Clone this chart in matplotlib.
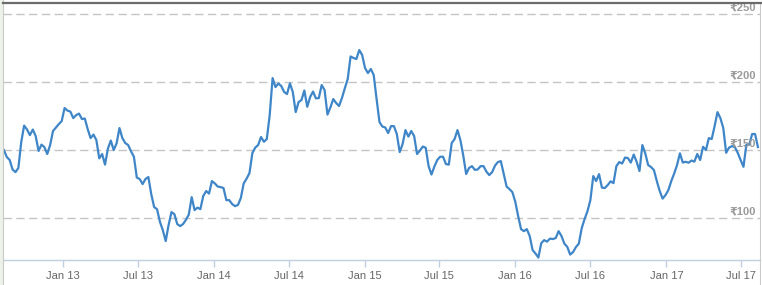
import matplotlib
matplotlib.use("Agg")
import matplotlib.pyplot as plt
import matplotlib.dates as mdates
import pandas as pd
from matplotlib.patches import Rectangle
from matplotlib.lines import Line2D

# ---- data (weekly closes) ----
start_date = "2012-08-10"
prices = [
    150.2, 145.1, 142.9, 135.9, 134.0, 137.0, 156.1, 168.2, 165.3, 161.2,
    165.3, 160.5, 149.5, 154.2, 152.4, 147.3, 153.9, 164.2, 166.8, 169.3,
    171.5, 181.1, 179.2, 178.5, 173.7, 175.9, 177.0, 173.0, 173.4, 165.6,
    159.0, 161.6, 157.6, 144.1, 147.3, 139.5, 151.3, 157.2, 150.2, 155.1,
    166.4, 159.0, 155.4, 153.9, 149.3, 145.3, 130.0, 128.9, 125.2, 128.9,
    130.4, 117.8, 108.3, 106.8, 97.5, 91.4, 83.3, 95.1, 104.6, 103.1,
    95.8, 94.3, 95.8, 98.9, 102.8, 115.6, 106.1, 107.9, 106.8, 116.4,
    120.1, 118.2, 127.4, 125.7, 123.4, 123.0, 122.3, 113.4, 113.4, 110.5,
    109.0, 109.8, 114.9, 125.7, 129.2, 133.3, 148.0, 152.0, 153.9, 159.8,
    156.3, 158.3, 175.9, 203.1, 196.5, 199.1, 197.3, 192.9, 191.4, 199.2,
    192.9, 178.1, 185.5, 187.0, 194.0, 182.0, 189.2, 193.2, 188.2, 188.4,
    198.0, 194.3, 176.3, 181.5, 187.7, 184.8, 182.6, 188.4, 195.6, 202.4,
    219.0, 217.9, 217.1, 223.7, 220.1, 210.5, 206.8, 209.8, 205.4, 187.7,
    170.8, 167.5, 166.8, 162.7, 167.8, 167.8, 162.0, 148.7, 154.6, 164.9,
    160.1, 164.2, 160.5, 147.3, 149.8, 152.8, 151.9, 138.4, 132.2, 138.1,
    142.9, 145.3, 145.3, 139.9, 139.5, 155.4, 158.3, 164.9, 157.6, 146.2,
    132.6, 137.0, 138.4, 135.7, 135.9, 138.4, 138.4, 134.4, 131.8, 134.0,
    138.8, 141.4, 142.1, 132.6, 123.4, 121.5, 119.3, 112.3, 101.7, 92.1,
    90.6, 92.1, 87.0, 76.7, 74.2, 71.2, 81.8, 84.0, 82.9, 85.1,
    84.8, 85.5, 90.6, 87.0, 81.4, 79.1, 73.4, 75.2, 78.9, 81.4,
    92.8, 99.5, 105.3, 113.4, 131.1, 127.4, 132.5, 122.6, 122.3, 124.5,
    127.2, 125.9, 138.4, 141.4, 140.3, 144.7, 144.3, 141.0, 146.9, 141.7,
    134.8, 153.9, 147.8, 139.2, 137.7, 135.5, 127.4, 120.1, 114.5, 117.1,
    120.8, 127.4, 132.9, 139.2, 147.8, 141.0, 141.6, 140.9, 142.5, 141.7,
    147.3, 142.9, 152.6, 150.2, 159.0, 158.3, 167.8, 178.1, 173.7, 166.4,
    148.2, 152.0, 153.1, 152.4, 148.2, 142.9, 137.9, 154.2, 154.2, 162.0,
    162.0, 152.4,
]
dates = pd.date_range(start_date, periods=len(prices), freq="7D")

x_tick_dates = ["2013-01-01", "2013-07-01", "2014-01-01", "2014-07-01",
                "2015-01-01", "2015-07-01", "2016-01-01", "2016-07-01",
                "2017-01-01", "2017-07-01"]
x_tick_labels = ["Jan 13", "Jul 13", "Jan 14", "Jul 14", "Jan 15",
                 "Jul 15", "Jan 16", "Jul 16", "Jan 17", "Jul 17"]
y_ticks = [100, 150, 200, 250]
y_tick_labels = ["₹100", "₹150", "₹200", "₹250"]

# ---- figure ----
W, H = 762, 285
fig = plt.figure(figsize=(W / 100, H / 100), dpi=100)
fig.patch.set_facecolor("white")

# left light band
fig.patches.append(Rectangle((0, 0), 3 / W, 1, transform=fig.transFigure,
                             facecolor="#eef1ea", edgecolor="none", zorder=0))

ax = fig.add_axes([3 / W, 25 / H, 757 / W, 257 / H])
ax.set_facecolor("white")

ax.plot(dates, prices, color="#3f86c8", lw=1.6, solid_joinstyle="round",
        zorder=3)

ax.set_xlim(pd.Timestamp("2012-08-07 19:00"), pd.Timestamp("2017-08-16"))
ax.set_ylim(69.4, 258.3)

# gridlines
for v in y_ticks:
    ax.axhline(v, color="#c4c4c4", lw=1.0, dashes=(6, 3.2), zorder=1)

# y labels inside, right side
for v, lab in zip(y_ticks, y_tick_labels):
    ax.annotate(lab, xy=(1, v), xycoords=("axes fraction", "data"),
                xytext=(-3, 1.2), textcoords="offset points",
                ha="right", va="bottom", fontsize=8, fontweight="bold",
                color="#9a9a9a", family=["Liberation Sans", "DejaVu Sans"],
                zorder=5)
ax.set_yticks([])

# x ticks
ax.set_xticks([pd.Timestamp(d) for d in x_tick_dates])
ax.set_xticklabels(x_tick_labels, fontsize=8, color="#666666",
                   family=["Liberation Sans", "DejaVu Sans"])
ax.tick_params(axis="x", length=5, width=1, color="#c0d0e0", pad=3)

for s in ["left", "right", "top"]:
    ax.spines[s].set_visible(False)
ax.spines["bottom"].set_color("#c0d0e0")
ax.spines["bottom"].set_linewidth(1.0)

# frame lines
fig.add_artist(Line2D([3 / W, 3 / W], [0, 1], transform=fig.transFigure,
                      color="#c8ccc4", lw=0.8))
fig.add_artist(Line2D([759.5 / W, 759.5 / W], [0, (H - 3) / H],
                      transform=fig.transFigure, color="#cccccc", lw=0.8))
fig.add_artist(Line2D([3 / W, 1], [(H - 3) / H, (H - 3) / H],
                      transform=fig.transFigure, color="#6b6b6b", lw=1.6))

fig.savefig("out.png", dpi=100, facecolor="white")
